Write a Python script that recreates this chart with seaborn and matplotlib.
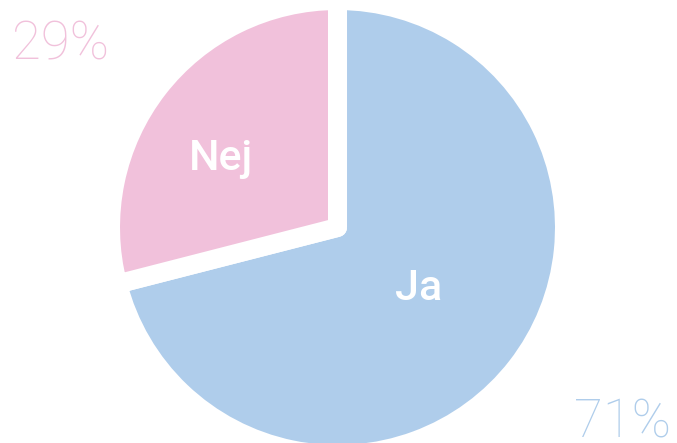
import matplotlib.pyplot as plt
import seaborn as sns

sns.set_style("white")
plt.rcParams['font.family'] = ['Roboto', 'DejaVu Sans']

labels = ['Ja', 'Nej']
values = [71, 29]
colors = ['#AFCDEB', '#F1C1DB']

W, H = 677, 443
fig = plt.figure(figsize=(W / 100, H / 100), dpi=100)
ax = fig.add_axes([0, 0, 1, 1])
fig.patch.set_facecolor('white')

ax.pie(values, colors=colors, startangle=90, counterclock=False,
       wedgeprops=dict(edgecolor='white', linewidth=13.7, joinstyle='round'))

# pie radius 1 -> ~227 px, center at (337.5, 227.5) px
s = 227.0
cx, cy = 337.5, 227.5
ax.set_xlim(-cx / s, (W - cx) / s)
ax.set_ylim(-(H - cy) / s, cy / s)
ax.set_aspect('equal')
ax.axis('off')

# slice names
fig.text(221 / W, 1 - 170 / H, labels[1], color='white', fontsize=31,
         fontweight='medium', ha='center', va='baseline')
fig.text(419 / W, 1 - 300 / H, labels[0], color='white', fontsize=31,
         fontweight='medium', ha='center', va='baseline')

# percentages
fig.text(12 / W, 1 - 60 / H, f'{values[1]}%', color=colors[1], fontsize=38,
         fontweight='light', ha='left', va='baseline')
fig.text(671 / W, 1 - 438 / H, f'{values[0]}%', color=colors[0], fontsize=38,
         fontweight='light', ha='right', va='baseline')

plt.savefig('out.png', dpi=100, facecolor='white')
plt.close()
